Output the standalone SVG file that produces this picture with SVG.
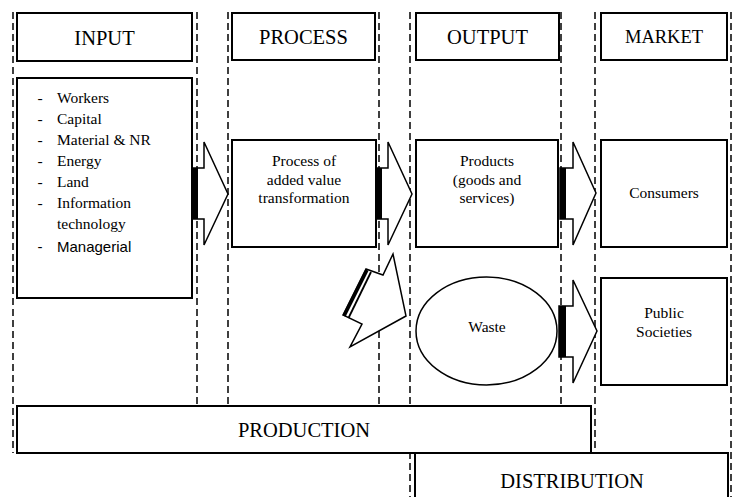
<svg xmlns="http://www.w3.org/2000/svg" width="734" height="497" viewBox="0 0 734 497">
<style>
.box{fill:#fff;stroke:#000;stroke-width:2}
.lane{stroke:#000;stroke-width:1.5;stroke-dasharray:7 4;fill:none}
.hd{font-family:"Liberation Serif","Times New Roman",serif;font-size:20.5px;text-anchor:middle;fill:#000}
.tx{font-family:"Liberation Serif","Times New Roman",serif;font-size:15.5px;fill:#000}
.c{text-anchor:middle}
.sans{font-family:"Liberation Sans",Arial,sans-serif;font-size:15px;fill:#000}
.arr{fill:#fff;stroke:#000;stroke-width:1.5;stroke-linejoin:miter}
</style>
<rect width="734" height="497" fill="#fff"/>
<g id="lanes">
<line class="lane" x1="13" y1="12" x2="13" y2="453"/>
<line class="lane" x1="197" y1="12" x2="197" y2="406"/>
<line class="lane" x1="228" y1="12" x2="228" y2="406"/>
<line class="lane" x1="379" y1="12" x2="379" y2="406"/>
<line class="lane" x1="410" y1="12" x2="410" y2="497"/>
<line class="lane" x1="561" y1="12" x2="561" y2="406"/>
<line class="lane" x1="595" y1="12" x2="595" y2="453"/>
<line class="lane" x1="731" y1="12" x2="731" y2="497"/>
</g>
<g id="input-header"><rect class="box" x="17" y="13" width="175" height="48"/><text class="hd" x="104.5" y="45">INPUT</text></g>
<g id="process-header"><rect class="box" x="232" y="13" width="143" height="47"/><text class="hd" x="303.5" y="44">PROCESS</text></g>
<g id="output-header"><rect class="box" x="416" y="13" width="143" height="47"/><text class="hd" x="487.5" y="44">OUTPUT</text></g>
<g id="market-header"><rect class="box" x="601" y="13" width="126" height="47"/><text class="hd" x="664" y="43" style="font-size:18.5px">MARKET</text></g>
<g id="input-list">
<rect class="box" x="17" y="78" width="175" height="220"/>
<text class="tx" x="40" y="103" text-anchor="middle">-</text><text class="tx" x="57" y="103">Workers</text>
<text class="tx" x="40" y="124" text-anchor="middle">-</text><text class="tx" x="57" y="124">Capital</text>
<text class="tx" x="40" y="145" text-anchor="middle">-</text><text class="tx" x="57" y="145">Material &amp; NR</text>
<text class="tx" x="40" y="166" text-anchor="middle">-</text><text class="tx" x="57" y="166">Energy</text>
<text class="tx" x="40" y="187" text-anchor="middle">-</text><text class="tx" x="57" y="187">Land</text>
<text class="tx" x="40" y="208" text-anchor="middle">-</text><text class="tx" x="57" y="208">Information</text>
<text class="tx" x="57" y="229">technology</text>
<text class="sans" x="40" y="252" text-anchor="middle">-</text><text class="sans" x="57" y="252">Managerial</text>
</g>
<g id="process-box"><rect class="box" x="232" y="140" width="144" height="107"/>
<text class="tx c" x="304" y="166">Process of</text><text class="tx c" x="304" y="184.5">added value</text><text class="tx c" x="304" y="203">transformation</text></g>
<g id="products"><rect class="box" x="416" y="140" width="142" height="107"/>
<text class="tx c" x="487" y="166">Products</text><text class="tx c" x="487" y="184.5">(goods and</text><text class="tx c" x="487" y="203">services)</text></g>
<g id="consumers"><rect class="box" x="601" y="140" width="126" height="107"/><text class="tx c" x="664" y="198">Consumers</text></g>
<g id="waste"><ellipse cx="486.5" cy="331" rx="70.5" ry="54" fill="#fff" stroke="#000" stroke-width="1.5"/><text class="tx c" x="487" y="332">Waste</text></g>
<g id="public"><rect class="box" x="601" y="278" width="126" height="107"/><text class="tx c" x="664" y="318">Public</text><text class="tx c" x="664" y="337">Societies</text></g>
<g id="production"><rect class="box" x="17" y="406" width="574" height="47"/><text class="hd" x="304" y="437">PRODUCTION</text></g>
<g id="distribution"><path class="box" d="M415,500 V453 H728 V500"/><text class="hd" x="572" y="488">DISTRIBUTION</text></g>
<g id="connectors">
<path class="arr" d="M192,168 H204 V142 L228,194 L204,245 V219 H192 Z"/><rect x="192" y="168" width="6" height="51" fill="#000"/>
<path class="arr" d="M376,168 H388 V142 L412,194 L388,245 V219 H376 Z"/><rect x="376" y="168" width="6" height="51" fill="#000"/>
<path class="arr" d="M560,168 H573 V142 L596,193 L573,245 V219 H560 Z"/><rect x="560" y="168" width="6" height="51" fill="#000"/>
<path class="arr" d="M559,306 H573 V280 L597,331 L573,383 V357 H559 Z"/><rect x="559" y="306" width="7" height="51" fill="#000"/>
<path class="arr" d="M343,315 L366,269 L383,275 L393,254 L406,316 L350,347 L362,324 Z"/>
<line x1="344" y1="316" x2="367" y2="270" stroke="#000" stroke-width="3.5"/>
<line x1="348.5" y1="318" x2="371" y2="272" stroke="#000" stroke-width="1.8"/>
</g>
</svg>
